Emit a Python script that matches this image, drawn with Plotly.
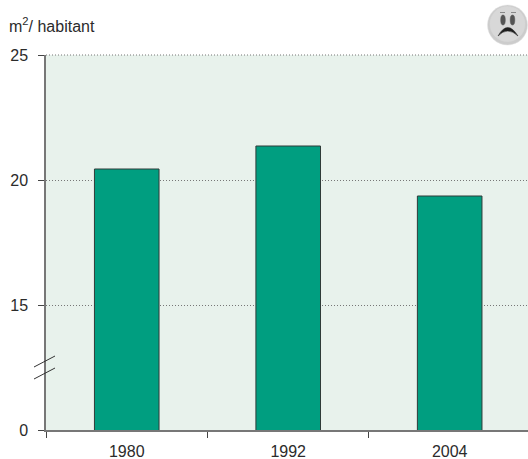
import plotly.graph_objects as go

categories = ["1980", "1992", "2004"]
values = [20.44, 21.36, 19.36]
tick_positions = [10, 15, 20, 25]
tick_labels = ["0", "15", "20", "25"]
unit_label = "m<sup>2</sup>/ habitant"

W, H = 528, 459
L, R, T, B = 46, 0, 55, 29
FONT = "Liberation Sans, Arial, sans-serif"
TEXT = "#2b2b2b"


def px(x):
    return (x - L) / (W - L - R)


def py(y):
    return 1 - (y - T) / (H - T - B)


def line(x0, y0, x1, y1, color="#333333", width=1):
    return dict(type="line", xref="paper", yref="paper", x0=px(x0), y0=py(y0), x1=px(x1), y1=py(y1),
                line=dict(color=color, width=width), layer="above")


def circle(cx, cy, rx, ry, fill, edge=None):
    return dict(type="circle", xref="paper", yref="paper", x0=px(cx - rx), x1=px(cx + rx),
                y0=py(cy + ry), y1=py(cy - ry), fillcolor=fill,
                line=dict(color=edge or fill, width=0.5), layer="above")


def path_px(points):
    d = ""
    for cmd, pts in points:
        d += cmd + " ".join(f"{px(x):.5f},{py(y):.5f}" for x, y in pts) + " "
    return d + "Z"


fig = go.Figure(go.Bar(
    x=categories, y=values, width=0.4,
    marker=dict(color="#009e80", line=dict(color="#2f3b38", width=1)),
))

top_grid = line(46, 55, 528, 55, "#777777", 1)
top_grid["line"]["dash"] = "1px,2px"

shapes = [
    top_grid,
    # axis-break marks
    line(34, 367, 55, 356),
    line(34, 379, 55, 368),
    # smiley
    circle(507.5, 25, 20, 20, "#cccccc", "#e2e2e2"),
    circle(507.5, 24, 17.5, 17.5, "#d8d8d8"),
    circle(503, 20, 2.3, 5, "#555555"),
    circle(512.5, 20, 2.3, 5, "#555555"),
    dict(type="path", xref="paper", yref="paper", layer="above", fillcolor="#1e1e1e",
         line=dict(color="#1e1e1e", width=0.5),
         path=path_px([("M", [(498, 36)]), ("Q", [(507.5, 19), (518, 36)]), ("Q", [(507.5, 26), (498, 36)])])),
    line(500, 12.5, 505, 12.5, "#888888", 1),
    line(511, 12.5, 516, 12.5, "#888888", 1),
]

fig.update_layout(
    width=W, height=H,
    margin=dict(l=L, r=R, t=T, b=B, pad=0),
    paper_bgcolor="white",
    plot_bgcolor="#e8f2ec",
    showlegend=False,
    font=dict(family=FONT, size=16, color=TEXT),
    shapes=shapes,
    annotations=[dict(text=unit_label, xref="paper", yref="paper", x=px(7), y=py(25),
                      xanchor="left", yanchor="middle", showarrow=False,
                      font=dict(family=FONT, size=16, color=TEXT))],
)
fig.update_xaxes(
    type="category", range=[-0.5, 2.485], tickson="boundaries",
    ticks="outside", ticklen=6, tickcolor="#444444", tickwidth=1, ticklabelstandoff=6,
    showline=True, linecolor="#777777", linewidth=2, showgrid=False,
)
fig.update_yaxes(
    range=[10, 25], tickmode="array", tickvals=tick_positions, ticktext=tick_labels,
    ticks="outside", ticklen=6, tickcolor="#444444", tickwidth=1, ticklabelstandoff=7,
    showline=True, linecolor="#777777", linewidth=1.5,
    showgrid=True, gridcolor="#777777", griddash="1px,2px", gridwidth=1, zeroline=False,
)
fig.write_html("out.html", config=dict(displayModeBar=False),
               post_script="document.body.style.margin='0';document.documentElement.style.overflow='hidden';")
